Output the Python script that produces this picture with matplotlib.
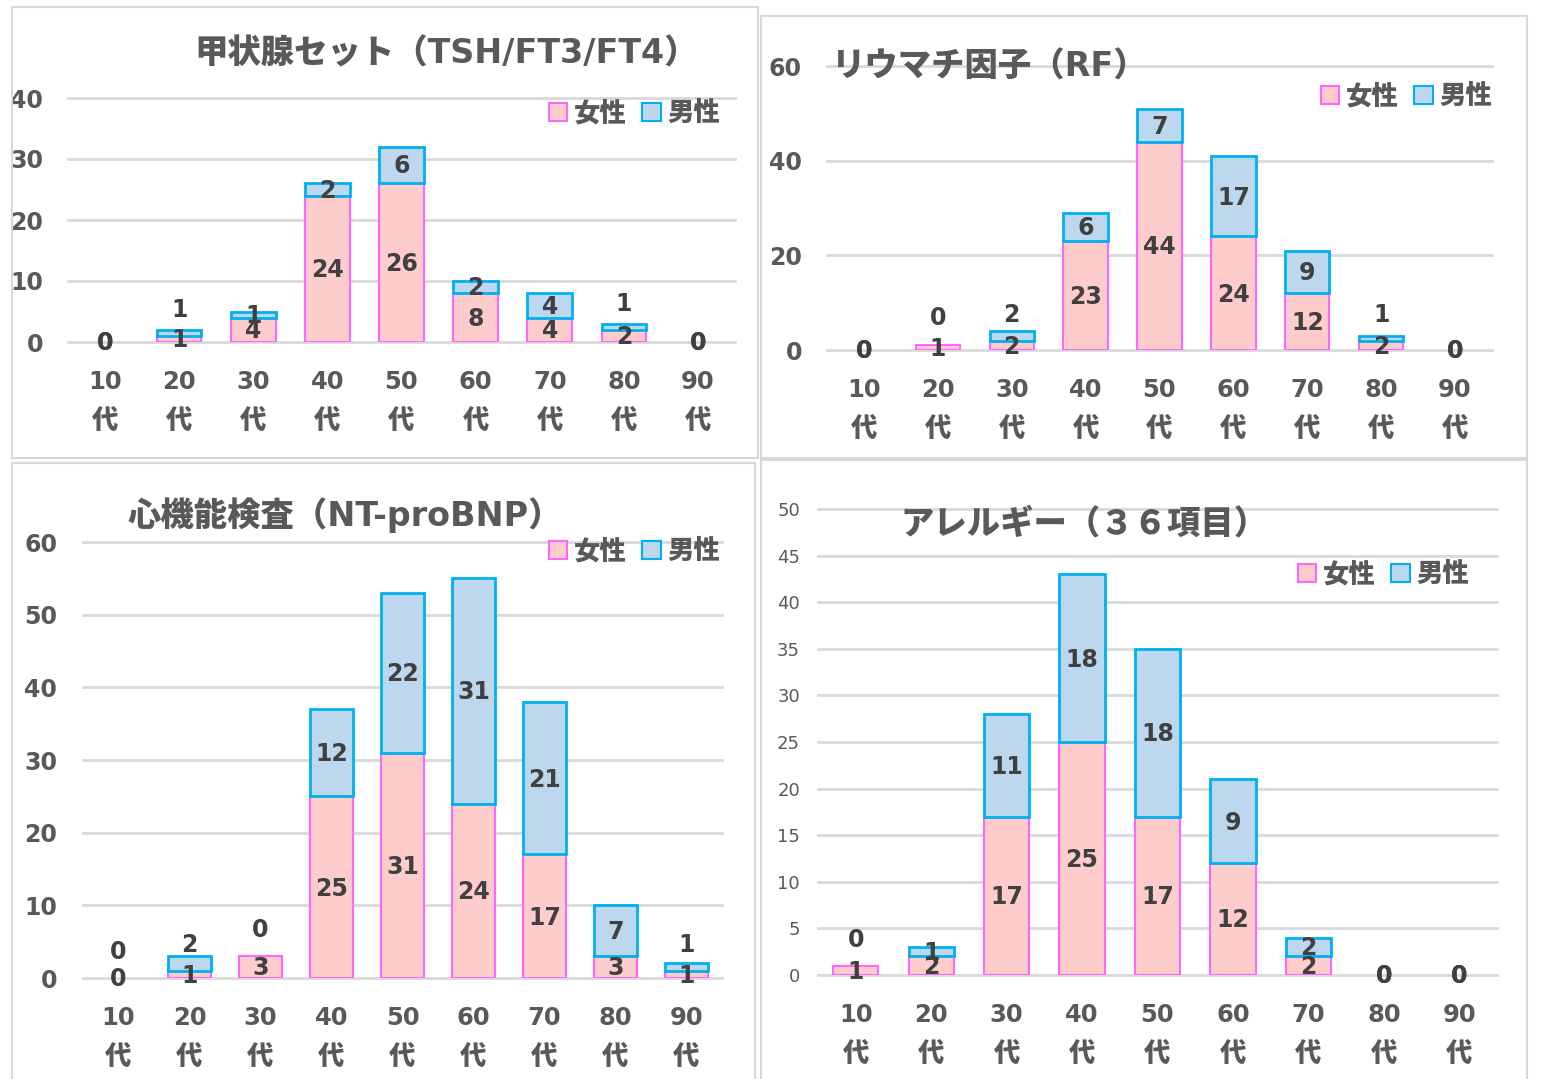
import matplotlib
matplotlib.use("Agg")
import matplotlib.pyplot as plt
from matplotlib.patches import Rectangle, Patch
import matplotlib.transforms as mtransforms

plt.rcParams['font.family'] = ['DejaVu Sans', 'Noto Sans CJK JP']

# ---------------- data ----------------
ages = ["10", "20", "30", "40", "50", "60", "70", "80", "90"]
age_suffix = "代"
series_names = ["女性", "男性"]

title1 = "甲状腺セット（TSH/FT3/FT4）"
female1 = [0, 1, 4, 24, 26, 8, 4, 2, 0]
male1 = [0, 1, 1, 2, 6, 2, 4, 1, 0]
yticks1 = [0, 10, 20, 30, 40]

title2 = "リウマチ因子（RF）"
female2 = [0, 1, 2, 23, 44, 24, 12, 2, 0]
male2 = [0, 0, 2, 6, 7, 17, 9, 1, 0]
yticks2 = [0, 20, 40, 60]

title3 = "心機能検査（NT-proBNP）"
female3 = [0, 1, 3, 25, 31, 24, 17, 3, 1]
male3 = [0, 2, 0, 12, 22, 31, 21, 7, 1]
yticks3 = [0, 10, 20, 30, 40, 50, 60]

title4 = "アレルギー（３６項目）"
female4 = [1, 2, 17, 25, 17, 12, 2, 0, 0]
male4 = [0, 1, 11, 18, 18, 9, 2, 0, 0]
yticks4 = [0, 5, 10, 15, 20, 25, 30, 35, 40, 45, 50]

# ---------------- style ----------------
W, H = 1541, 1079
DPI = 100
F_FACE, F_EDGE = "#FFCCCC", "#FF66FF"
M_FACE, M_EDGE = "#BDD7EE", "#00B0F0"
GRID = "#D9D9D9"
TXT = "#595959"
LBL = "#404040"
NUM = 17

fig = plt.figure(figsize=(W / DPI, H / DPI), dpi=DPI)
fig.patch.set_facecolor("white")


def px_rect(x0, y0, x1, y1):
    return [x0 / W, 1 - y1 / H, (x1 - x0) / W, (y1 - y0) / H]


# panel frames
for (x0, y0, x1, y1) in [(12, 7, 758, 458), (761, 16, 1527, 458),
                         (12, 463, 755, 1090), (761, 460, 1527, 1090)]:
    fig.patches.append(Rectangle((x0 / W, 1 - y1 / H), (x1 - x0) / W, (y1 - y0) / H,
                                 transform=fig.transFigure, fill=False,
                                 edgecolor=GRID, lw=1.5))

panels = [
    dict(title=title1, f=female1, m=male1, yt=yticks1,
         ax=(68, 98, 735, 342), raised={1: 20, 7: 20},
         title_xy=(446, 54), title_ha="center",
         leg_xy=(720, 114), ytick_bold=True, ytick_size=NUM, ytick_pad=25),
    dict(title=title2, f=female2, m=male2, yt=yticks2,
         ax=(827, 66, 1492, 350), raised={1: 27, 2: 16, 7: 21},
         title_xy=(832, 67), title_ha="left",
         leg_xy=(1492, 97), ytick_bold=True, ytick_size=NUM, ytick_pad=25),
    dict(title=title3, f=female3, m=male3, yt=yticks3,
         ax=(83, 542, 722, 978), raised={0: 26, 1: 11, 2: 26, 8: 18},
         title_xy=(345, 515), title_ha="center",
         leg_xy=(720, 552), ytick_bold=True, ytick_size=NUM, ytick_pad=26),
    dict(title=title4, f=female4, m=male4, yt=yticks4,
         ax=(818, 509, 1497, 975), raised={0: 26},
         title_xy=(1084, 524), title_ha="center",
         leg_xy=(1469, 575), ytick_bold=False, ytick_size=13, ytick_pad=18),
]

for p in panels:
    x0, y0, x1, y1 = p["ax"]
    ax = fig.add_axes(px_rect(x0, y0, x1, y1))
    n = len(ages)
    xs = list(range(n))
    f, m = p["f"], p["m"]
    ax.bar(xs, f, width=0.6, color=F_FACE, edgecolor=F_EDGE,
           linewidth=[1.5 if v else 0 for v in f], zorder=3)
    ax.bar(xs, m, width=0.6, bottom=f, color=M_FACE, edgecolor=M_EDGE,
           linewidth=[2 if v else 0 for v in m], zorder=3)
    ax.set_xlim(-0.5, n - 0.5)
    ax.set_ylim(p["yt"][0], p["yt"][-1])
    ax.set_yticks(p["yt"])
    ax.set_yticklabels([str(v) for v in p["yt"]],
                       fontsize=p["ytick_size"],
                       fontweight="bold" if p["ytick_bold"] else "normal",
                       color=TXT)
    ax.tick_params(axis="y", length=0, pad=p["ytick_pad"] * 0.72)
    ax.set_xticks([])
    for s in ax.spines.values():
        s.set_visible(False)
    ax.yaxis.grid(True, color=GRID, lw=2)
    ax.set_axisbelow(True)
    for gl in ax.get_ygridlines():
        gl.set_clip_on(False)
    ax.patch.set_alpha(0)

    # x category labels (two lines)
    trans = mtransforms.blended_transform_factory(ax.transData, ax.transAxes)
    for i, a in enumerate(ages):
        ax.annotate(a, xy=(i, 0), xycoords=trans, xytext=(0, -40 * 0.72),
                    textcoords="offset points", ha="center", va="center",
                    fontsize=NUM + 0.5, fontweight="bold", color=TXT)
        ax.annotate(age_suffix, xy=(i, 0), xycoords=trans, xytext=(0, -80 * 0.72),
                    textcoords="offset points", ha="center", va="center",
                    fontsize=19, fontweight="heavy", color=TXT)

    # data labels
    for i in xs:
        ax.annotate(str(f[i]), xy=(i, f[i] / 2), xytext=(0, -1),
                    textcoords="offset points", ha="center", va="center",
                    fontsize=NUM, fontweight="bold", color=LBL, zorder=5)
        if i in p["raised"]:
            ax.annotate(str(m[i]), xy=(i, f[i] + m[i]),
                        xytext=(0, p["raised"][i] * 0.72),
                        textcoords="offset points", ha="center", va="center",
                        fontsize=NUM, fontweight="bold", color=LBL, zorder=5)
        else:
            ax.annotate(str(m[i]), xy=(i, f[i] + m[i] / 2), xytext=(0, -1),
                        textcoords="offset points", ha="center", va="center",
                        fontsize=NUM, fontweight="bold", color=LBL, zorder=5)

    # title
    tx, ty = p["title_xy"]
    fig.text(tx / W, 1 - ty / H, p["title"], ha=p["title_ha"], va="center",
             fontsize=24, fontweight="heavy", color=TXT)

    # legend
    handles = [Patch(facecolor=F_FACE, edgecolor=F_EDGE, lw=1.5),
               Patch(facecolor=M_FACE, edgecolor=M_EDGE, lw=1.5)]
    lx, ly = p["leg_xy"]
    fig.legend(handles, series_names, loc="center right",
               bbox_to_anchor=(lx / W, 1 - ly / H), ncol=2, frameon=False,
               handlelength=0.7, handleheight=0.7, handletextpad=0.25,
               columnspacing=0.6, borderpad=0, borderaxespad=0,
               prop=dict(size=19, weight="heavy"), labelcolor=TXT)

fig.savefig("out.png", dpi=DPI)
